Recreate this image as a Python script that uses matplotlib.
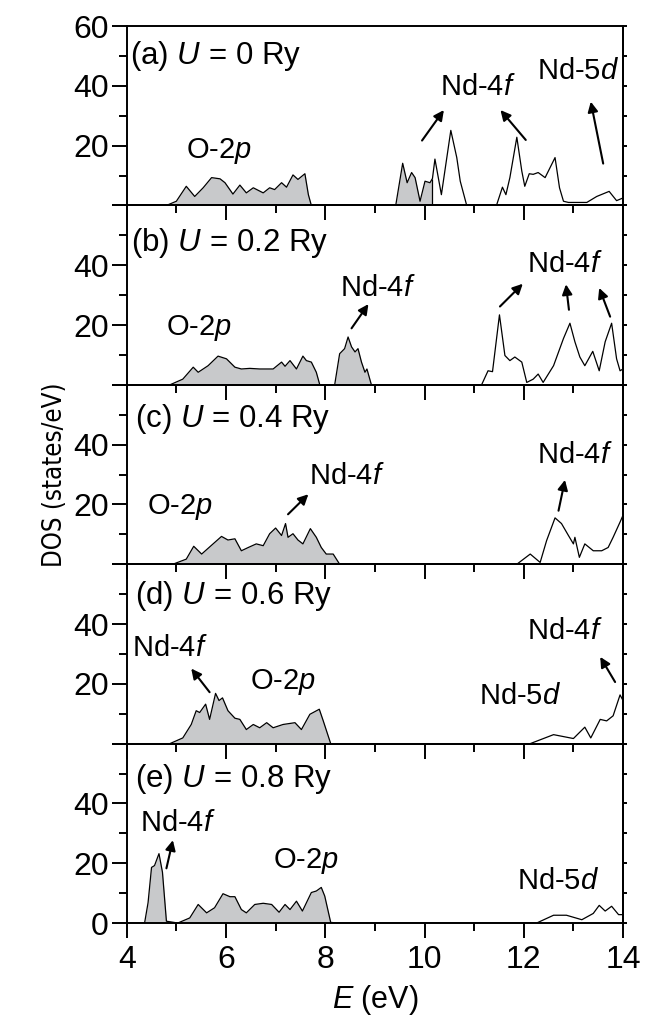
import numpy as np
import matplotlib.pyplot as plt
from matplotlib.ticker import MultipleLocator

plt.rcParams['font.family'] = 'Liberation Sans'
plt.rcParams['mathtext.fontset'] = 'custom'
plt.rcParams['mathtext.rm'] = 'Liberation Sans'
plt.rcParams['mathtext.it'] = 'Liberation Sans:italic'

# DOS curves: (E in eV, DOS in states/eV)
dos_a = [(4.0, 0), (4.80, 0), (5.0, 1.4), (5.20, 6.4), (5.37, 3.0), (5.54, 5.9), (5.71, 9.3),
         (5.88, 8.9), (5.98, 7.6), (6.14, 3.8), (6.28, 6.8), (6.41, 4.2), (6.55, 5.9), (6.75, 4.2),
         (6.88, 5.9), (6.98, 5.3), (7.12, 7.6), (7.22, 6.1), (7.35, 10.2), (7.45, 8.7), (7.59, 10.6),
         (7.66, 3.6), (7.72, 0), (9.42, 0), (9.56, 14.1), (9.65, 7.6), (9.74, 11.0), (9.81, 9.3),
         (9.91, 1.4), (10.01, 8.1), (10.11, 7.6), (10.16, 9.0), (10.21, 15.5), (10.34, 3.6),
         (10.53, 25.1), (10.65, 16.0), (10.72, 8.1), (10.85, 0), (11.45, 0), (11.57, 6.1),
         (11.64, 3.6), (11.72, 9.3), (11.86, 22.8), (11.96, 11.5), (12.02, 6.4), (12.11, 10.6),
         (12.19, 10.4), (12.29, 11.0), (12.43, 9.3), (12.63, 16.0), (12.72, 5.9), (12.80, 1.4),
         (12.90, 1.0), (13.27, 1.0), (13.47, 3.0), (13.72, 4.7), (13.87, 1.6), (14.0, 2.5)]
dos_b = [(4.0, 0), (4.87, 0), (5.13, 1.9), (5.34, 5.9), (5.44, 4.2), (5.64, 6.4), (5.84, 9.6),
         (6.01, 8.7), (6.18, 5.9), (6.31, 5.3), (6.48, 5.5), (6.68, 5.3), (6.95, 5.3), (7.12, 7.6),
         (7.19, 6.2), (7.29, 8.1), (7.42, 5.3), (7.55, 9.6), (7.62, 8.1), (7.72, 7.6), (7.82, 4.2),
         (7.89, 0), (8.19, 0), (8.29, 10.4), (8.39, 12.1), (8.46, 16.0), (8.53, 12.7), (8.60, 11.0),
         (8.66, 12.1), (8.73, 7.6), (8.80, 4.2), (8.84, 5.3), (8.93, 0), (11.15, 0), (11.28, 4.7),
         (11.37, 4.4), (11.51, 23.4), (11.62, 9.8), (11.72, 8.1), (11.82, 9.3), (11.96, 7.6),
         (12.06, 0.8), (12.19, 1.9), (12.29, 3.6), (12.39, 0.8), (12.60, 6.4), (12.80, 15.5),
         (12.93, 20.6), (13.03, 14.4), (13.13, 9.3), (13.23, 6.4), (13.39, 11.2), (13.52, 4.7),
         (13.64, 14.4), (13.77, 20.6), (13.87, 8.7), (13.94, 4.7), (14.0, 5.3)]
dos_c = [(4.0, 0), (4.93, 0), (5.20, 1.7), (5.35, 6.0), (5.51, 3.4), (5.74, 6.8), (5.91, 9.3),
         (6.04, 8.1), (6.18, 8.5), (6.31, 4.5), (6.45, 5.6), (6.61, 6.8), (6.75, 6.2), (6.88, 10.2),
         (7.0, 12.1), (7.12, 9.6), (7.20, 13.6), (7.25, 9.0), (7.35, 10.2), (7.45, 8.1), (7.55, 6.8),
         (7.70, 11.9), (7.82, 9.0), (7.92, 5.6), (8.02, 3.4), (8.16, 3.4), (8.29, 0), (11.86, 0),
         (12.13, 3.4), (12.33, 0.6), (12.46, 7.9), (12.63, 15.5), (12.76, 13.6), (12.90, 9.6),
         (13.0, 6.8), (13.03, 9.0), (13.12, 2.3), (13.23, 6.8), (13.40, 4.5), (13.57, 4.5),
         (13.70, 5.6), (13.80, 9.0), (13.94, 14.1), (14.0, 16.4)]
dos_d = [(4.0, 0), (4.87, 0), (5.13, 1.9), (5.30, 6.4), (5.40, 11.0), (5.47, 10.4), (5.59, 13.2),
         (5.67, 8.1), (5.79, 16.8), (5.86, 14.4), (5.93, 15.3), (6.04, 11.0), (6.18, 8.5),
         (6.28, 8.1), (6.41, 4.7), (6.55, 6.4), (6.68, 5.3), (6.82, 7.0), (6.95, 5.3), (7.15, 6.4),
         (7.39, 7.0), (7.52, 4.7), (7.69, 9.8), (7.88, 11.5), (7.96, 7.6), (8.11, 0), (12.13, 0),
         (12.60, 3.0), (13.0, 1.7), (13.23, 5.5), (13.35, 1.9), (13.54, 8.1), (13.67, 7.6),
         (13.80, 9.3), (13.94, 16.3), (14.0, 14.4)]
dos_e = [(4.0, 0), (4.36, 0), (4.43, 6.8), (4.50, 18.6), (4.56, 19.2), (4.65, 23.2), (4.72, 17.0),
         (4.80, 0.6), (5.03, 0), (5.27, 1.7), (5.44, 6.2), (5.61, 3.4), (5.77, 5.1), (5.94, 9.8),
         (6.08, 8.8), (6.18, 8.8), (6.31, 4.5), (6.41, 3.4), (6.58, 6.2), (6.75, 6.6), (6.92, 6.2),
         (7.07, 3.6), (7.19, 6.2), (7.29, 4.5), (7.42, 7.3), (7.54, 4.0), (7.72, 10.2), (7.82, 10.7),
         (7.92, 11.9), (7.99, 9.0), (8.11, 0.2), (8.26, 0), (12.26, 0), (12.60, 2.6), (12.86, 2.6),
         (13.17, 1.1), (13.40, 3.2), (13.52, 5.9), (13.64, 4.0), (13.77, 5.6), (13.91, 2.8), (14.0, 2.8)]

curves = [dos_a, dos_b, dos_c, dos_d, dos_e]
fermi = [10.16, 9.5, 9.5, 9.5, 9.5]          # occupied states (shaded) below this energy
U_values = ['0', '0.2', '0.4', '0.6', '0.8']
panel_ids = ['a', 'b', 'c', 'd', 'e']

# annotation texts: (E, DOS, text)
labels = [
    [(5.86, 18.3, 'O-2$p$'), (11.08, 39.5, 'Nd-4$f$'), (13.10, 44.9, 'Nd-5$d$')],
    [(5.46, 19.1, 'O-2$p$'), (9.07, 32.4, 'Nd-4$f$'), (12.83, 40.3, 'Nd-4$f$')],
    [(5.07, 19.0, 'O-2$p$'), (8.43, 29.6, 'Nd-4$f$'), (13.03, 36.4, 'Nd-4$f$')],
    [(4.87, 31.9, 'Nd-4$f$'), (7.15, 20.6, 'O-2$p$'), (11.92, 16.0, 'Nd-5$d$'), (12.83, 37.5, 'Nd-4$f$')],
    [(5.03, 33.3, 'Nd-4$f$'), (7.62, 20.6, 'O-2$p$'), (12.70, 14.1, 'Nd-5$d$')],
]
# arrows: (E tail, DOS tail, E head, DOS head)
arrows = [
    [(9.95, 21.7, 10.39, 31.9), (12.04, 21.9, 11.53, 31.9), (13.60, 14.0, 13.35, 34.7)],
    [(8.53, 18.9, 8.87, 27.0), (11.52, 26.2, 11.98, 33.8), (12.91, 25.1, 12.85, 33.6),
     (13.74, 22.8, 13.52, 32.4)],
    [(7.25, 16.7, 7.66, 23.4), (12.70, 17.9, 12.83, 28.2)],
    [(5.67, 17.2, 5.30, 25.1), (13.84, 20.6, 13.54, 29.0)],
    [(4.80, 18.3, 4.93, 27.7)],
]
panel_label_pos = [(4.06, 50.0), (4.09, 47.3), (4.16, 48.6), (4.16, 49.4), (4.16, 48.0)]
ytick_labels = [['', '20', '40', '60'], ['', '20', '40', ''], ['', '20', '40', ''],
                ['', '20', '40', ''], ['0', '20', '40', '']]

fig, axes = plt.subplots(5, 1, sharex=True, figsize=(6.6, 10.25), dpi=100)
fig.subplots_adjust(left=0.192, right=0.944, top=0.9746, bottom=0.0995, hspace=0)

fs = 21
for i, ax in enumerate(axes):
    E, D = np.array(curves[i]).T
    ef = fermi[i]
    ax.patch.set_alpha(0)
    ax.fill_between(E, D, where=E <= ef, color='#c8c9cb', lw=0)
    ax.plot(E, D, color='k', lw=0.9)
    if i == 0:
        ax.vlines(ef, 0, np.interp(ef, E, D), color='k', lw=0.9)
    ax.set_xlim(4, 14)
    ax.set_ylim(0, 60)

    ax.xaxis.set_major_locator(MultipleLocator(2))
    ax.xaxis.set_minor_locator(MultipleLocator(1))
    ax.set_yticks([0, 20, 40, 60])
    ax.set_yticklabels(ytick_labels[i])
    ax.yaxis.set_minor_locator(MultipleLocator(10))
    ax.tick_params(which='major', direction='out', length=11, width=1.4, labelsize=23, pad=2)
    ax.tick_params(which='minor', direction='out', length=6, width=1.4)
    ax.tick_params(axis='x', which='major', pad=5)
    for sp in ax.spines.values():
        sp.set_linewidth(1.4)

    sec = ax.secondary_yaxis('right')
    sec.yaxis.set_major_locator(MultipleLocator(10))
    sec.tick_params(direction='out', length=3, width=1.4, labelright=False)
    sec.spines['right'].set_linewidth(1.4)

    x0, y0 = panel_label_pos[i]
    ax.text(x0, y0, '(%s) $U$ = %s Ry' % (panel_ids[i], U_values[i]),
            ha='left', va='center', fontsize=22.5)
    for x, y, s in labels[i]:
        ax.text(x, y, s, ha='center', va='center', fontsize=fs)
    for xt, yt, xh, yh in arrows[i]:
        ax.annotate('', xy=(xh, yh), xytext=(xt, yt),
                    arrowprops=dict(arrowstyle='-|>', color='k', lw=1.5,
                                    mutation_scale=15, shrinkA=0, shrinkB=0))
    if i < 4:
        ax.tick_params(axis='x', labelbottom=False)

fig.text(0.083, 0.537, 'DOS (states/eV)', rotation=90, ha='center', va='center',
         fontsize=18.5, family='DejaVu Sans', fontstretch='condensed')
fig.text(0.568, 0.024, '$E$ (eV)', ha='center', va='center', fontsize=22)

fig.savefig('out.png', dpi=100)
